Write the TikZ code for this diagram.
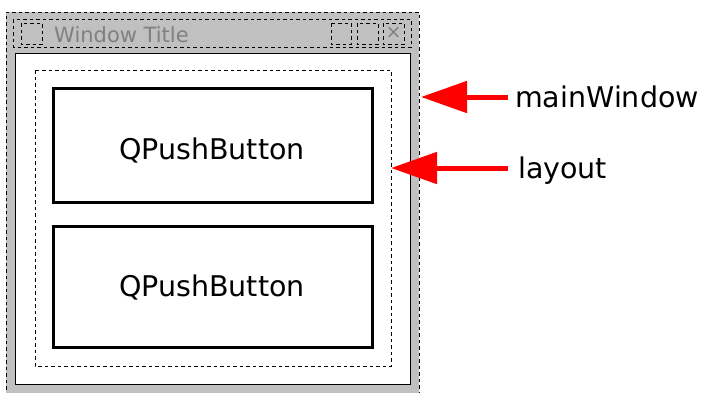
\documentclass[tikz,border=0pt]{standalone}
\usepackage{fontspec}
\setmainfont{DejaVu Sans}
\usetikzlibrary{arrows.meta}
\definecolor{framegray}{HTML}{C0C0C0}
\definecolor{titlegray}{HTML}{808080}
\tikzset{
  dashbox/.style={draw=black, line width=1pt, dash pattern=on 3.5pt off 3pt},
  btnbox/.style={draw=black, line width=3pt, fill=white, minimum width=319pt, inner sep=0pt},
  btntext/.style={font=\fontsize{28.5}{34}\selectfont, anchor=base, inner sep=0pt},
  lbl/.style={font=\fontsize{28.5}{34}\selectfont, anchor=base west, inner sep=0pt},
  pointer/.style={draw=red, line width=5pt,
    -{Triangle[length=46pt,width=31pt]}}
}
\begin{document}
\begin{tikzpicture}[x=1pt,y=-1pt]
  \useasboundingbox (0,0) rectangle (703,392);
  % window frame
  \path[fill=framegray] (6,12) rectangle (419,396);
  \draw[dashbox] (6,396) -- (6,12) -- (419,12) -- (419,396);
  % title bar
  \draw[dashbox] (13,19) rectangle (411,47);
  \draw[dashbox] (21,23) rectangle (42,44);
  \node[anchor=base west, inner sep=0pt, text=titlegray, font=\fontsize{21}{25}\selectfont] (title) at (54,42.5) {Window Title};
  \draw[dashbox] (331,23) rectangle (351,44);
  \draw[dashbox] (357,23) rectangle (378,44);
  \draw[dashbox] (383,23) rectangle (404,44);
  \node[inner sep=0pt, text=titlegray, font=\fontsize{19}{22}\selectfont] (close) at (393.5,33) {×};
  % client area
  \draw[fill=white, line width=1pt] (15,53) rectangle (410,384);
  \coordinate (mwedge) at (421,97);
  % layout
  \draw[dashbox] (35,70) rectangle (391,366);
  \coordinate (lyedge) at (391,168);
  % buttons
  \node[btnbox, minimum height=114pt] (b1) at (212.5,145) {};
  \node[btnbox, minimum height=121pt] (b2) at (212.5,286.5) {};
  \node[btntext] (t1) at (212,159) {QPushButton};
  \node[btntext] (t2) at (212,296) {QPushButton};
  % labels and pointers
  \node[lbl] (mw) at (515,107) {mainWindow};
  \node[lbl] (ly) at (518,178) {layout};
  \draw[pointer] (508,97) -- (mwedge);
  \draw[pointer] (508,168) -- (lyedge);
\end{tikzpicture}
\end{document}
